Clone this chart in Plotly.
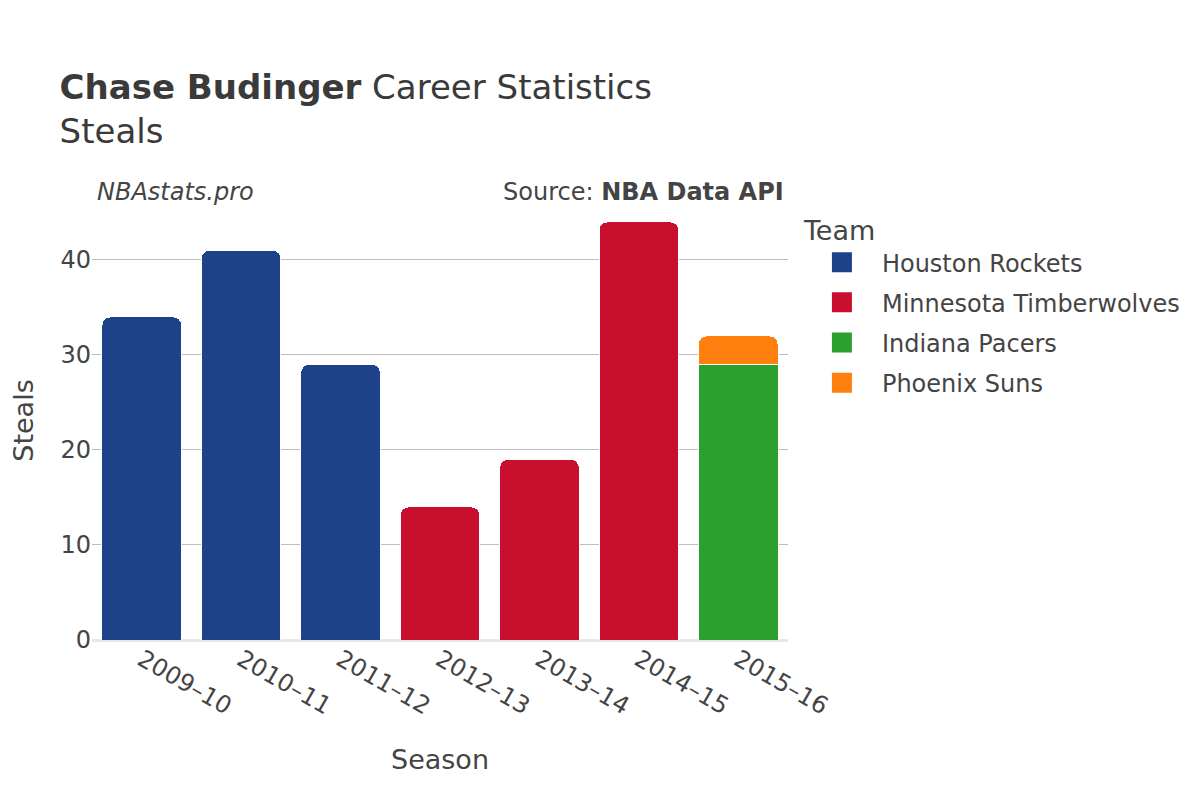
import plotly.graph_objects as go

seasons = ["2009–10", "2010–11", "2011–12", "2012–13", "2013–14", "2014–15", "2015–16"]

teams = ["Houston Rockets", "Minnesota Timberwolves", "Indiana Pacers", "Phoenix Suns"]
colors = ["#1d428a", "#c8102e", "#2ca02c", "#ff7f0e"]

houston = [34, 41, 29, None, None, None, None]
minnesota = [None, None, None, 14, 19, 44, None]
indiana = [None, None, None, None, None, None, 29]
phoenix = [None, None, None, None, None, None, 3]

values = [houston, minnesota, indiana, phoenix]

fig = go.Figure()
for team, col, vals in zip(teams, colors, values):
    fig.add_trace(go.Bar(
        x=seasons, y=vals, name=team, showlegend=False,
        marker=dict(color=col, line=dict(color="white", width=1)),
    ))
# legend entries with bigger square symbols
for team, col in zip(teams, colors):
    fig.add_trace(go.Scatter(
        x=[None], y=[None], mode="markers", name=team, legendgroup=team,
        marker=dict(symbol="square", size=16, color=col, line=dict(color=col, width=4)),
    ))

font = "DejaVu Sans"
fig.update_layout(
    template="plotly_white",
    barmode="stack",
    bargap=0.2,
    barcornerradius=8,
    width=1200, height=800,
    margin=dict(l=84, r=420, t=193, b=168),
    font=dict(family=font, color="#444", size=22),
    title=dict(
        text="<b>Chase Budinger</b> Career Statistics<br>Steals",
        x=0.043, xanchor="left", y=0.886, yanchor="top",
        font=dict(size=34, color="#3a3a3a"),
    ),
    xaxis=dict(
        title=dict(text="Season", font=dict(size=27), standoff=30),
        tickangle=30, tickfont=dict(size=24), automargin=False,
    ),
    yaxis=dict(
        title=dict(text="Steals", font=dict(size=27), standoff=37),
        gridcolor="#bdbdbd", gridwidth=1.3,
        tickfont=dict(size=24), automargin=False,
        zerolinecolor="#e8e8e8", zerolinewidth=3,
        range=[0, 46.2], dtick=10,
    ),
    legend=dict(
        title=dict(text="Team", font=dict(size=27)),
        font=dict(size=24),
        x=1.02, xanchor="left", y=0.991, yanchor="top",
        traceorder="grouped", tracegroupgap=6,
        itemwidth=70,
    ),
    annotations=[
        dict(text="<i>NBAstats.pro</i>", x=0.004, y=1.02, xref="paper", yref="paper",
             xanchor="left", yanchor="middle", showarrow=False, font=dict(size=24)),
        dict(text="Source: <b>NBA Data API</b>", x=0.997, y=1.02, xref="paper", yref="paper",
             xanchor="right", yanchor="middle", showarrow=False, font=dict(size=24)),
    ],
)

fig.write_html("out.html")
